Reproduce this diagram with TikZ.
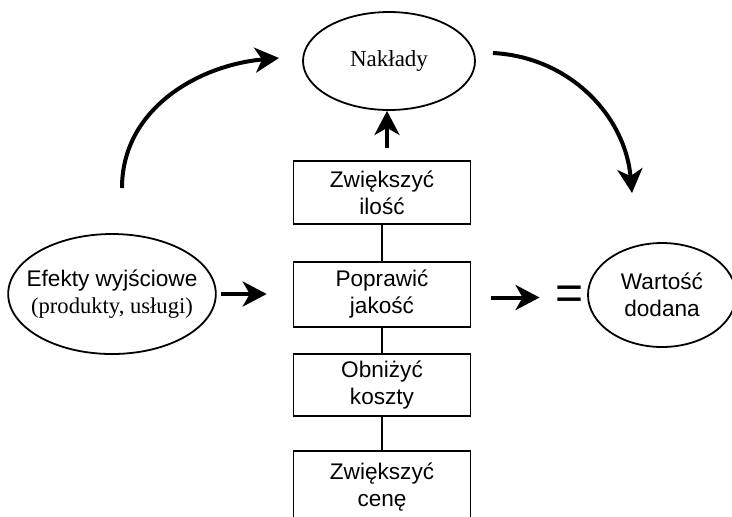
\documentclass[tikz,border=0pt]{standalone}
\usepackage{fontspec}
\setmainfont{Liberation Sans}
\newfontfamily\timesfont{Liberation Serif}
\usetikzlibrary{shapes.geometric,arrows.meta}

\begin{document}
\begin{tikzpicture}[x=0.5pt,y=0.5pt,
    font=\fontsize{11.3}{13.5}\selectfont,
    box/.style={draw,line width=0.8pt,align=center,minimum width=88.5pt},
    oval/.style={draw,ellipse,line width=0.9pt,align=center,inner sep=0pt},
    arr/.style={line width=2pt,-{Stealth[length=12pt,width=12.5pt,inset=3.5pt]}}]
    \useasboundingbox (0,0) rectangle (732,-516);
    \clip (0,0) rectangle (732,-516);
    \node[oval,minimum width=86pt,minimum height=49pt,font=\timesfont\fontsize{11.5}{13}\selectfont] (naklady) at (389,-61) {Nakłady};
    \node[oval,minimum width=103pt,minimum height=60pt,inner xsep=-6pt] (efekty) at (112,-294) {Efekty wyjściowe\\{\timesfont (produkty, usługi)}};
    \node[oval,minimum width=74pt,minimum height=52pt] (wartosc) at (662,-295) {Wartość\\dodana};
    \node[box,minimum height=31.5pt] (ilosc) at (382,-192.5) {Zwiększyć\\ilość};
    \node[box,minimum height=32.5pt] (jakosc) at (382,-294.5) {Poprawić\\jakość};
    \node[box,minimum height=30pt] (koszty) at (382,-385) {Obniżyć\\koszty};
    \node[box,minimum height=36pt] (cena) at (382,-487) {Zwiększyć\\cenę};
    \node[inner sep=0pt,font=\fontsize{24}{24}\selectfont] (eq) at (570,-297.5) {=};
    \coordinate (l0) at (122,-188);
    \coordinate (l1) at (279,-58);
    \coordinate (r0) at (493,-53);
    \coordinate (r1) at (632,-193);
    \coordinate (u0) at (387,-148);
    \draw[line width=0.8pt] (ilosc) -- (jakosc) (jakosc) -- (koszty) (koszty) -- (cena);
    \draw[arr] (l0) to[out=90,in=185] (l1);
    \draw[arr] (r0) to[out=-3,in=95] (r1);
    \draw[arr] (u0) -- (u0 |- naklady.south);
    \draw[arr,shorten <=2pt,shorten >=13pt] (efekty.east) -- (efekty.east -| jakosc.west);
    \draw[arr,shorten <=10pt,shorten >=8pt] (jakosc.east |- eq) -- (eq.west); % przed znakiem =
\end{tikzpicture}
\end{document}
